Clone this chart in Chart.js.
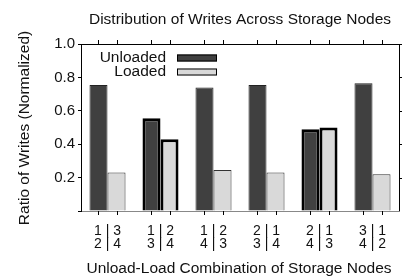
<!DOCTYPE html>
<html>
<head>
<meta charset="utf-8">
<script src="https://cdn.jsdelivr.net/npm/chart.js@4"></script>
<style>
  html, body { margin: 0; padding: 0; background: #fff; }
  #wrap { width: 409px; height: 280px; }
</style>
</head>
<body>
<div id="wrap"><canvas id="c" width="409" height="280"></canvas></div>
<script>
// Node combinations: unloaded pair | loaded pair
const COMBOS = [
  ['1 | 3', '2 | 4'],
  ['1 | 2', '3 | 4'],
  ['1 | 2', '4 | 3'],
  ['2 | 1', '3 | 4'],
  ['2 | 1', '4 | 3'],
  ['3 | 1', '4 | 2'],
];
const UNLOADED = [0.755, 0.555, 0.74, 0.755, 0.49, 0.765];
const LOADED = [0.23, 0.43, 0.245, 0.23, 0.5, 0.22];
const Y_TICKS = [0.2, 0.4, 0.6, 0.8, 1.0];
const HIGHLIGHT = [false, true, false, false, true, false];

const FONT = 'Liberation Sans, Arial, sans-serif';
const TEXT = '#111';
const DARK = '#404040';
const LIGHT = '#d9d9d9';

// frame, ticks, titles, legend (gnuplot look)
const framePlugin = {
  id: 'frame',
  afterDraw(chart) {
    const { ctx, chartArea: a } = chart;
    const y = chart.scales.y;
    ctx.save();
    ctx.strokeStyle = '#000';
    ctx.lineWidth = 1;
    ctx.beginPath();
    ctx.moveTo(a.left, a.top + 0.5);
    ctx.lineTo(a.right + 0.5, a.top + 0.5);
    ctx.lineTo(a.right + 0.5, a.bottom);
    ctx.stroke();

    // ticks at every bar centre, top and bottom
    ctx.beginPath();
    [0, 1].forEach(i => {
      chart.getDatasetMeta(i).data.forEach(bar => {
        const bx = Math.round(bar.x) + 0.5;
        ctx.moveTo(bx, a.top - 4);
        ctx.lineTo(bx, a.top);
        ctx.moveTo(bx, a.bottom);
        ctx.lineTo(bx, a.bottom + 4);
      });
    });
    // right side ticks
    Y_TICKS.forEach(v => {
      const ty = Math.round(y.getPixelForValue(v)) + 0.5;
      ctx.moveTo(a.right, ty);
      ctx.lineTo(a.right + 3, ty);
    });
    ctx.stroke();

    ctx.fillStyle = TEXT;
    ctx.font = '15.5px ' + FONT;
    ctx.textBaseline = 'middle';
    ctx.textAlign = 'center';
    ctx.fillText('Distribution of Writes Across Storage Nodes', 240, 20);
    ctx.fillText('Unload-Load Combination of Storage Nodes', 239, 269);
    ctx.save();
    ctx.translate(25, 128);
    ctx.rotate(-Math.PI / 2);
    ctx.fillText('Ratio of Writes (Normalized)', 0, 0);
    ctx.restore();

    // legend
    ctx.textAlign = 'right';
    const items = [['Unloaded', DARK, 58], ['Loaded', LIGHT, 72]];
    items.forEach(([label, col, ly]) => {
      ctx.fillStyle = TEXT;
      ctx.fillText(label, 166, ly);
      ctx.fillStyle = col;
      ctx.fillRect(177, ly - 3.5, 40, 7);
      ctx.strokeStyle = '#000';
      ctx.strokeRect(177.5, ly - 3, 39, 6);
    });
    ctx.restore();
  }
};

new Chart(document.getElementById('c'), {
  type: 'bar',
  data: {
    labels: COMBOS,
    datasets: [
      {
        label: 'Unloaded',
        data: UNLOADED,
        backgroundColor: DARK,
        borderColor: HIGHLIGHT.map(h => h ? '#000' : '#222'),
        borderWidth: HIGHLIGHT.map(h => h ? 3 : 1),
        categoryPercentage: 0.68,
        barPercentage: 1.0,
      },
      {
        label: 'Loaded',
        data: LOADED,
        backgroundColor: LIGHT,
        borderColor: HIGHLIGHT.map(h => h ? '#000' : '#333'),
        borderWidth: HIGHLIGHT.map(h => h ? 3 : 1),
        categoryPercentage: 0.68,
        barPercentage: 1.0,
      },
    ],
  },
  options: {
    responsive: false,
    animation: false,
    layout: { padding: { top: 44, right: 10, left: 0, bottom: 0 } },
    plugins: {
      legend: { display: false },
      tooltip: { enabled: false },
    },
    scales: {
      x: {
        grid: { display: false },
        border: { display: true, color: '#888', width: 1 },
        ticks: {
          color: TEXT,
          font: { family: FONT, size: 14, lineHeight: 0.9 },
          padding: 6,
          maxRotation: 0,
        },
        afterFit(s) { s.height = 69; },
      },
      y: {
        min: 0,
        max: 1,
        grid: { drawOnChartArea: false, color: '#000', tickLength: 3 },
        border: { display: true, color: '#000', width: 1 },
        ticks: {
          stepSize: 0.2,
          color: TEXT,
          padding: 3,
          font: { family: FONT, size: 15 },
          callback: v => (v === 0 ? '' : v.toFixed(1)),
        },
        afterFit(s) { s.width = 81; },
      },
    },
  },
  plugins: [framePlugin],
});
</script>
</body>
</html>
